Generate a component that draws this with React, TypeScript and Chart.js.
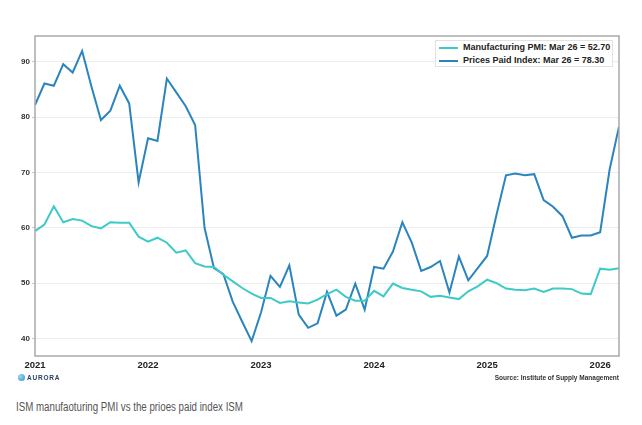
import React, { useEffect, useRef } from "react";
import { Chart, registerables } from "chart.js";

Chart.register(...registerables);

const yearLabels = ["2021", "2022", "2023", "2024", "2025", "2026"];
const yearTickIndex = [0, 12, 24, 36, 48, 60];
const yTicks = [40, 50, 60, 70, 80, 90];

const pmi = [
  59.4, 60.6, 63.9, 61.0, 61.6, 61.3, 60.3, 59.9, 61.0, 60.9, 60.9, 58.4,
  57.5, 58.2, 57.3, 55.5, 55.9, 53.6, 53.0, 52.9, 51.5, 50.3, 49.1, 48.1,
  47.3, 47.3, 46.4, 46.7, 46.5, 46.3, 47.0, 48.0, 48.8, 47.5, 46.8, 46.8,
  48.6, 47.6, 49.9, 49.1, 48.8, 48.5, 47.5, 47.7, 47.4, 47.1, 48.5, 49.4,
  50.6, 50.0, 49.0, 48.8, 48.7, 49.0, 48.4, 49.0, 49.0, 48.9, 48.1, 48.0,
  52.6, 52.4, 52.7,
];

const pricesPaid = [
  82.2, 86.1, 85.7, 89.6, 88.1, 92.0, 85.5, 79.5, 81.2, 85.7, 82.5, 68.2,
  76.2, 75.7, 87.0, 84.5, 82.0, 78.6, 60.0, 52.7, 51.6, 46.6, 43.0, 39.5,
  44.7, 51.3, 49.3, 53.2, 44.3, 41.9, 42.7, 48.4, 44.1, 45.2, 49.9, 45.2,
  52.9, 52.6, 55.7, 61.0, 57.3, 52.2, 52.9, 54.0, 48.3, 54.8, 50.5, 52.7,
  54.9, 62.4, 69.5, 69.8, 69.5, 69.7, 65.0, 63.8, 62.1, 58.2, 58.6, 58.6,
  59.2, 70.5, 78.3,
];

const lastLabel = "Mar 26";
const PMI_COLOR = "#3ECAC6";
const PP_COLOR = "#2A85BF";

export default function App() {
  const canvasRef = useRef<HTMLCanvasElement | null>(null);

  useEffect(() => {
    const canvas = canvasRef.current;
    if (!canvas) return;
    const framePlugin = {
      id: "frame",
      afterDatasetsDraw(chart: any) {
        const { ctx, chartArea } = chart;
        ctx.save();
        ctx.strokeStyle = "#a9a9a9";
        ctx.lineWidth = 1.5;
        ctx.strokeRect(chartArea.left, chartArea.top, chartArea.right - chartArea.left, chartArea.bottom - chartArea.top);
        ctx.restore();
      },
    };
    const chart = new Chart(canvas, {
      type: "line",
      data: {
        datasets: [
          {
            label: "Manufacturing PMI",
            data: pmi.map((v, i) => ({ x: i, y: v })),
            borderColor: PMI_COLOR,
            borderWidth: 2,
            pointRadius: 0,
            tension: 0,
          },
          {
            label: "Prices Paid Index",
            data: pricesPaid.map((v, i) => ({ x: i, y: v })),
            borderColor: PP_COLOR,
            borderWidth: 2,
            pointRadius: 0,
            tension: 0,
          },
        ],
      },
      options: {
        animation: false,
        responsive: false,
        maintainAspectRatio: false,
        devicePixelRatio: 1,
        layout: { padding: { left: 0, top: 36, right: 23, bottom: 19 } },
        plugins: { legend: { display: false }, tooltip: { enabled: false } },
        scales: {
          x: {
            type: "linear",
            min: 0,
            max: pmi.length - 1,
            afterFit: (s: any) => { s.height = 20; },
            afterBuildTicks: (s: any) => { s.ticks = yearTickIndex.map((v) => ({ value: v })); },
            grid: { display: false, drawTicks: false },
            border: { display: false },
            ticks: {
              autoSkip: false,
              maxRotation: 0,
              padding: 4,
              color: "#222",
              font: { family: "Liberation Sans, Arial, sans-serif", size: 9.5, weight: "bold" },
              callback: (v: any) => yearLabels[yearTickIndex.indexOf(Number(v))] ?? "",
            },
          },
          y: {
            min: 36.8,
            max: 94.7,
            afterFit: (s: any) => { s.width = 35; },
            afterBuildTicks: (s: any) => { s.ticks = yTicks.map((v) => ({ value: v })); },
            grid: { color: "#ededed", lineWidth: 1, tickColor: "#c8c8c8", tickLength: 3 },
            border: { display: false },
            ticks: {
              padding: 2,
              color: "#333",
              font: { family: "Liberation Sans, Arial, sans-serif", size: 8, weight: "bold" },
            },
          },
        },
      },
      plugins: [framePlugin],
    } as any);
    return () => chart.destroy();
  }, []);

  const legendText = { fontFamily: "Liberation Sans, Arial, sans-serif", fontWeight: "bold" as const, fontSize: 9, color: "#222", lineHeight: "13px", whiteSpace: "nowrap" as const };

  return (
    <div style={{ position: "absolute", left: 0, top: 0, width: 642, height: 425, background: "#fff", overflow: "hidden" }}>
      <canvas ref={canvasRef} width={642} height={395} style={{ position: "absolute", left: 0, top: 0, width: 642, height: 395 }} />
      <div style={{ position: "absolute", left: 435, top: 40, width: 178, height: 27, border: "1px solid #e2e2e2", background: "#fff", boxSizing: "border-box" }}>
        <div style={{ position: "absolute", left: 3, top: 5.5, width: 19, height: 2, background: PMI_COLOR }} />
        <div style={{ position: "absolute", left: 3, top: 19, width: 19, height: 2, background: PP_COLOR }} />
        <div style={{ position: "absolute", left: 27, top: 0, ...legendText }}>
          {`Manufacturing PMI: ${lastLabel} = ${pmi[pmi.length - 1].toFixed(2)}`}
        </div>
        <div style={{ position: "absolute", left: 27, top: 13, ...legendText }}>
          {`Prices Paid Index: ${lastLabel} = ${pricesPaid[pricesPaid.length - 1].toFixed(2)}`}
        </div>
      </div>
      <div style={{ position: "absolute", left: 18, top: 374, display: "flex", alignItems: "center" }}>
        <div style={{ width: 7, height: 7, borderRadius: "50%", background: "radial-gradient(circle at 35% 35%, #9fd8f5, #2a8fd0)", marginRight: 2 }} />
        <span style={{ fontFamily: "Liberation Sans, Arial, sans-serif", fontWeight: "bold", fontSize: 6.5, letterSpacing: 0.8, color: "#2b3f5c" }}>AURORA</span>
      </div>
      <div style={{ position: "absolute", right: 642 - 619, top: 374, fontFamily: "Liberation Sans, Arial, sans-serif", fontWeight: "bold", fontSize: 6.5, color: "#333", whiteSpace: "nowrap" }}>
        Source: Institute of Supply Management
      </div>
      <div style={{ position: "absolute", left: 16, top: 400, fontFamily: "Liberation Sans, Arial, sans-serif", fontSize: 12, color: "#555", whiteSpace: "nowrap", transform: "scaleX(0.81)", transformOrigin: "left top" }}>
        ISM manufaoturing PMI vs the prioes paid index ISM
      </div>
    </div>
  );
}
